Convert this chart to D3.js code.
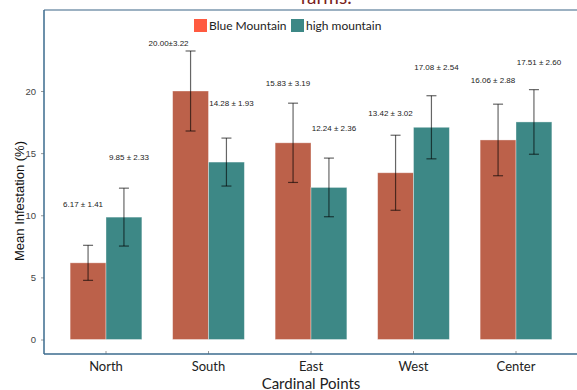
<!DOCTYPE html>
<html>
<head>
<meta charset="utf-8">
<title>Mean Infestation</title>
<script src="https://cdnjs.cloudflare.com/ajax/libs/d3/7.8.5/d3.min.js"></script>
<style>
  body { margin: 0; background: #fff; }
  svg text { font-family: "Liberation Sans", Arial, sans-serif; }
</style>
</head>
<body>
<script>
// data
var categories = ["North", "South", "East", "West", "Center"];
var seriesNames = ["Blue Mountain", "high mountain"];
var blueMean = [6.17, 20.00, 15.83, 13.42, 16.06];
var blueSE   = [1.41, 3.22, 3.19, 3.02, 2.88];
var highMean = [9.85, 14.28, 12.24, 17.08, 17.51];
var highSE   = [2.33, 1.93, 2.36, 2.54, 2.60];
var blueLabels = ["6.17 ± 1.41", "20.00±3.22", "15.83 ± 3.19", "13.42 ± 3.02", "16.06 ± 2.88"];
var highLabels = ["9.85 ± 2.33", "14.28 ± 1.93", "12.24 ± 2.36", "17.08 ± 2.54", "17.51 ± 2.60"];
// height (in % units) at which each annotation sits
var blueLabelAt = [10.9, 23.85, 20.6, 18.25, 20.9];
var highLabelAt = [14.66, 19.05, 17.0, 21.95, 22.3];
var yTicks = [0, 5, 10, 15, 20];

var W = 577, H = 390;
var panel = {left: 44, right: 577, top: 10, bottom: 354};
var barCol = ["#bc614a", "#3d8886"];
var keyCol = ["#ff5a40", "#3d8886"];

var svg = d3.select("body").append("svg")
  .attr("width", W).attr("height", H);

var x = d3.scaleBand()
  .domain(categories)
  .range([54.75, 567.25])
  .paddingInner(0.3)
  .paddingOuter(0.15);

var xs = d3.scaleBand()
  .domain([0, 1])
  .range([0, x.bandwidth()]);

var y = d3.scaleLinear()
  .domain([0, 20])
  .range([339.5, 91]);

// clipped title from above
svg.append("text")
  .attr("x", 326).attr("y", 4)
  .attr("text-anchor", "middle")
  .style("font-family", "Lato, sans-serif")
  .style("font-size", "19px")
  .attr("fill", "#7a1f22")
  .text("farms.");

// panel frame
svg.append("line")
  .attr("x1", panel.left).attr("x2", panel.right)
  .attr("y1", panel.top).attr("y2", panel.top)
  .attr("stroke", "#9cb1c2").attr("stroke-width", 2);

var series = [
  {mean: blueMean, se: blueSE, labels: blueLabels, at: blueLabelAt},
  {mean: highMean, se: highSE, labels: highLabels, at: highLabelAt}
];

series.forEach(function(s, si) {
  var g = svg.append("g");
  g.selectAll("rect")
    .data(categories)
    .enter().append("rect")
    .attr("x", function(d) { return x(d) + xs(si); })
    .attr("y", function(d, i) { return y(s.mean[i]); })
    .attr("width", xs.bandwidth())
    .attr("height", function(d, i) { return y(0) - y(s.mean[i]); })
    .attr("fill", barCol[si])
    .attr("stroke", "#ffffff").attr("stroke-opacity", 0.45).attr("stroke-width", 0.8);
});

series.forEach(function(s, si) {
  var g = svg.append("g")
    .attr("stroke", "#000").attr("stroke-opacity", 0.6).attr("stroke-width", 1.2);
  categories.forEach(function(d, i) {
    var cx = x(d) + xs(si) + xs.bandwidth() / 2;
    var lo = y(s.mean[i] - s.se[i]), hi = y(s.mean[i] + s.se[i]);
    g.append("line").attr("x1", cx).attr("x2", cx).attr("y1", lo).attr("y2", hi);
    g.append("line").attr("x1", cx - 5).attr("x2", cx + 5).attr("y1", lo).attr("y2", lo);
    g.append("line").attr("x1", cx - 5).attr("x2", cx + 5).attr("y1", hi).attr("y2", hi);
  });
  svg.append("g").selectAll("text")
    .data(categories)
    .enter().append("text")
    .attr("x", function(d, i) {
      var cx = x(d) + xs(si) + xs.bandwidth() / 2;
      if (si === 0 && i === 1) return cx - 22;
      return si === 0 ? cx - 5 : cx + 5;
    })
    .attr("y", function(d, i) { return y(s.at[i]); })
    .attr("dy", "0.35em")
    .attr("text-anchor", "middle")
    .style("font-size", "8px")
    .attr("fill", "#222")
    .text(function(d, i) { return s.labels[i]; });
});

// y axis
var yAxis = d3.axisLeft(y).tickValues(yTicks).tickSize(3).tickPadding(5);
var gy = svg.append("g")
  .attr("transform", "translate(" + panel.left + ",0)")
  .call(yAxis);
gy.select(".domain").remove();
gy.selectAll(".tick line").attr("stroke", "#999");
gy.selectAll(".tick text").style("font-size", "9.5px").attr("fill", "#444");

// x axis
var xAxis = d3.axisBottom(x).tickSize(3).tickPadding(5);
var gx = svg.append("g")
  .attr("transform", "translate(0," + panel.bottom + ")")
  .call(xAxis);
gx.select(".domain").remove();
gx.selectAll(".tick line").attr("stroke", "#999").attr("y1", -3).attr("y2", 0);
gx.selectAll(".tick text")
  .style("font-family", "Lato, sans-serif")
  .style("font-size", "13px").attr("fill", "#222");

svg.append("line")
  .attr("x1", panel.left).attr("x2", panel.left)
  .attr("y1", panel.top).attr("y2", panel.bottom)
  .attr("stroke", "#3b6b8e").attr("stroke-width", 1.5);
svg.append("line")
  .attr("x1", panel.left).attr("x2", panel.right)
  .attr("y1", panel.bottom).attr("y2", panel.bottom)
  .attr("stroke", "#3b6b8e").attr("stroke-width", 1.5);

// axis titles
svg.append("text")
  .attr("transform", "translate(24,201) rotate(-90)")
  .attr("text-anchor", "middle")
  .style("font-size", "13px")
  .attr("fill", "#111")
  .text("Mean Infestation (%)");

svg.append("text")
  .attr("x", 311).attr("y", 388.5)
  .attr("text-anchor", "middle")
  .style("font-family", "Lato, sans-serif")
  .style("font-size", "15px")
  .attr("fill", "#222")
  .text("Cardinal Points");

// legend
var legendX = [194, 291];
var lg = svg.append("g");
seriesNames.forEach(function(n, i) {
  lg.append("rect")
    .attr("x", legendX[i]).attr("y", 19)
    .attr("width", 13).attr("height", 13)
    .attr("fill", keyCol[i]);
  lg.append("text")
    .attr("x", legendX[i] + 15).attr("y", 25.5)
    .attr("dy", "0.35em")
    .style("font-family", "Lato, sans-serif")
    .style("font-size", "12px")
    .attr("fill", "#222")
    .text(n);
});
</script>
</body>
</html>
